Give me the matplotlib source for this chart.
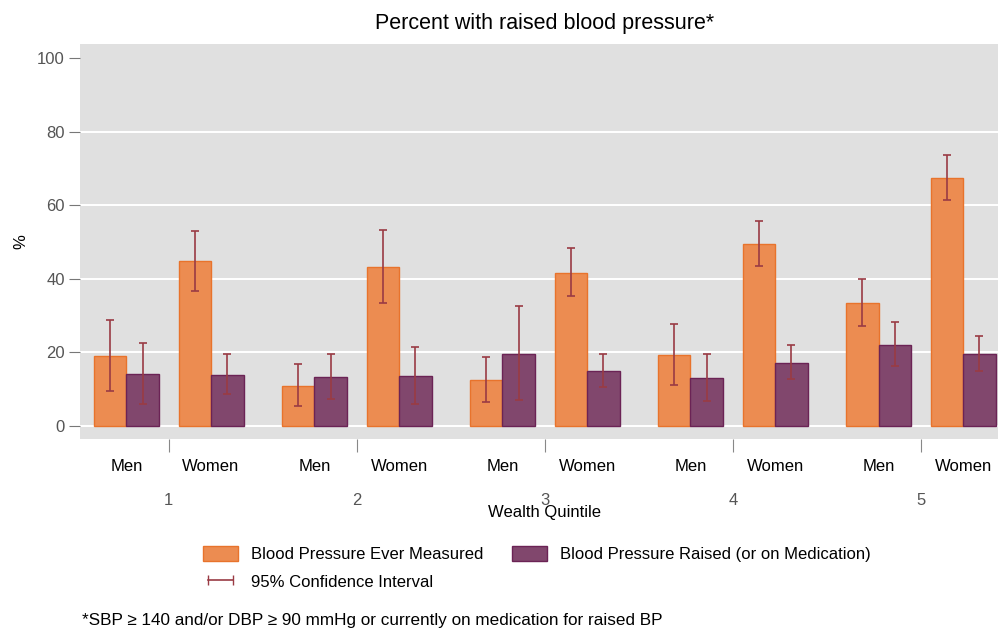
import numpy as np
import matplotlib
matplotlib.use("Agg")
import matplotlib.pyplot as plt
from matplotlib.patches import Patch
from matplotlib.lines import Line2D

plt.rcParams['font.family'] = ['Liberation Sans', 'DejaVu Sans']

# data
quintiles = ['1', '2', '3', '4', '5']
sexes = ['Men', 'Women']
# order per quintile: Men, Women
measured = [19.0, 44.7, 10.8, 43.2, 12.4, 41.5, 19.2, 49.3, 33.3, 67.5]
measured_lo = [9.4, 36.6, 5.2, 33.4, 6.4, 35.3, 11.1, 43.3, 27.1, 61.4]
measured_hi = [28.8, 52.9, 16.7, 53.2, 18.6, 48.2, 27.6, 55.7, 39.9, 73.7]
raised = [14.0, 13.7, 13.2, 13.5, 19.6, 14.9, 12.9, 17.1, 21.9, 19.6]
raised_lo = [5.8, 8.6, 7.3, 5.8, 6.9, 10.6, 6.7, 12.7, 16.1, 14.9]
raised_hi = [22.5, 19.4, 19.6, 21.5, 32.4, 19.6, 19.6, 21.8, 28.1, 24.5]

orange = '#EC8C51'
orange_edge = '#E8732C'
purple = '#81476D'
purple_edge = '#6B2355'
ci_col = '#9A3B44'

# layout (bar width = 1)
period = 5.785
half = 1.303
ticks = np.arange(len(quintiles)) * period
centers = np.ravel([[t - half, t + half] for t in ticks])

fig = plt.figure(figsize=(9.98, 6.3), dpi=100)
ax = fig.add_axes([80 / 998, (630 - 438.7) / 630, 918 / 998, (438.7 - 44.3) / 630])
ax.set_facecolor('#E0E0E0')

for y in [0, 20, 40, 60, 80]:
    ax.axhline(y, color='white', lw=1.4, zorder=1)

ax.bar(centers - 0.5, measured, width=1, color=orange, edgecolor=orange_edge, lw=1, zorder=2)
ax.bar(centers + 0.5, raised, width=1, color=purple, edgecolor=purple_edge, lw=1, zorder=2)

m = np.array(measured)
r = np.array(raised)
ax.errorbar(centers - 0.5, m, yerr=[m - np.array(measured_lo), np.array(measured_hi) - m],
            fmt='none', ecolor=ci_col, elinewidth=1.2, capsize=2.8, capthick=1.2, zorder=3)
ax.errorbar(centers + 0.5, r, yerr=[r - np.array(raised_lo), np.array(raised_hi) - r],
            fmt='none', ecolor=ci_col, elinewidth=1.2, capsize=2.8, capthick=1.2, zorder=3)

ax.set_xlim(ticks[0] - half - 1.425, ticks[-1] + half + 1.07)
ax.set_ylim((438.7 - 425.5) / -3.673, (425.5 - 44.3) / 3.673)
ax.set_yticks([0, 20, 40, 60, 80, 100])
ax.tick_params(axis='y', length=8, color='#777777', labelcolor='#555555', labelsize=12, pad=3)
ax.set_ylabel('%', fontsize=12, labelpad=6)

# x axis: separator ticks, sex labels, quintile numbers
ax.set_xticks(ticks)
ax.set_xticklabels([])
ax.tick_params(axis='x', length=9, color='#888888', direction='out', pad=0)
for spine in ax.spines.values():
    spine.set_visible(False)
for i, c in enumerate(centers):
    ax.text(c, -0.07, sexes[i % 2], transform=ax.get_xaxis_transform(),
            ha='center', va='center', fontsize=12)
for t, q in zip(ticks, quintiles):
    ax.text(t, -0.156, q, transform=ax.get_xaxis_transform(),
            ha='center', va='center', fontsize=12, color='#555555')
fig.text(545 / 998, 1 - 513 / 630, 'Wealth Quintile', ha='center', va='center', fontsize=12)

fig.text(545 / 998, 1 - 24 / 630, 'Percent with raised blood pressure*', ha='center', va='center',
         fontsize=15.5)

handles = [Patch(facecolor=orange, edgecolor=orange_edge, lw=1),
           Line2D([0], [0], color=ci_col, lw=1.2, marker='|', markersize=7),
           Patch(facecolor=purple, edgecolor=purple_edge, lw=1)]
labels = ['Blood Pressure Ever Measured', '95% Confidence Interval',
          'Blood Pressure Raised (or on Medication)']
fig.legend(handles, labels, ncol=2, loc='center left', bbox_to_anchor=(188 / 998, 1 - 568 / 630),
           frameon=False, fontsize=12, handlelength=2.1, handleheight=1.0, numpoints=2,
           columnspacing=1.7, labelspacing=0.7, handletextpad=0.8)

fig.text(82 / 998, 1 - 620 / 630, '*SBP \u2265 140 and/or DBP \u2265 90 mmHg or currently on medication for raised BP',
         ha='left', va='center', fontsize=12.3)

fig.savefig('out.png', dpi=100)
